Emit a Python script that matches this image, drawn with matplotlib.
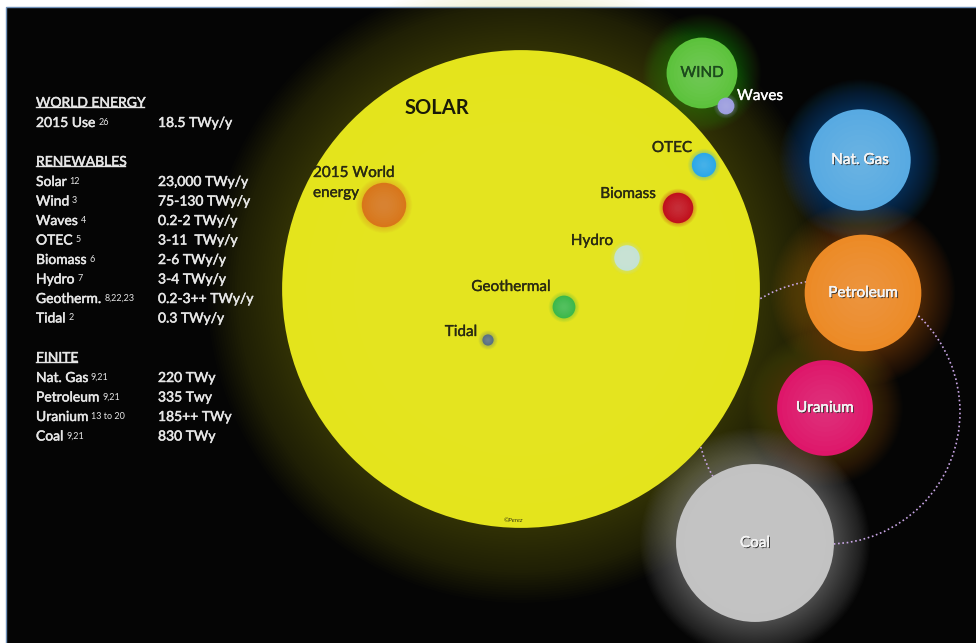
import numpy as np
import matplotlib.pyplot as plt
import matplotlib.colors as mcolors
import matplotlib.patheffects as pe
from matplotlib.patches import Circle, Rectangle


# Left hand table
world_labels = ['2015 Use']
world_refs = ['26']
world_values = ['18.5 TWy/y']

renew_labels = ['Solar', 'Wind', 'Waves', 'OTEC', 'Biomass', 'Hydro', 'Geotherm.', 'Tidal']
renew_refs = ['12', '3', '4', '5', '6', '7', '8,22,23', '2']
renew_values = ['23,000 TWy/y', '75-130 TWy/y', '0.2-2 TWy/y', '3-11  TWy/y',
                '2-6 TWy/y', '3-4 TWy/y', '0.2-3++ TWy/y', '0.3 TWy/y']

finite_labels = ['Nat. Gas', 'Petroleum', 'Uranium', 'Coal']
finite_refs = ['9,21', '9,21', '13 to 20', '9,21']
finite_values = ['220 TWy', '335 Twy', '185++ TWy', '830 TWy']

# Amounts used for the spheres (TWy). Sphere volume ~ amount.
solar_twy = 23000
world_twy = 18.5
sphere_names = ['WIND', 'Waves', 'OTEC', 'Biomass', 'Hydro', 'Geothermal', 'Tidal']
sphere_twy = [75, 1, 3, 6, 3.5, 2.5, 0.3]
finite_names = ['Nat. Gas', 'Petroleum', 'Uranium', 'Coal']
finite_twy = [220, 335, 185, 830]


# pixels per cube root of TWy
K = 8.4


def radius(v):
    return K * v ** (1.0 / 3.0)


def glow(ax, xy, r, color, reach, strength, z=1, n=30):
    # stack of faint rings, strongest at the sphere edge
    a = 1 - (1 - strength) ** (1.0 / n)
    for i in range(n):
        rr = r + (reach - r) * (i + 1) / n
        ax.add_patch(Circle(xy, rr, facecolor=color, edgecolor='none', alpha=a, zorder=z))


def sphere(ax, xy, r, color, z, light=0.5, shade=0.06):
    base = np.array(mcolors.to_rgb(color))
    hi = base + (1 - base) * light
    ax.add_patch(Circle(xy, r, facecolor=color, edgecolor='none', zorder=z))
    for i in range(8):
        ax.add_patch(Circle(xy, r * (0.9 - i * 0.1), facecolor=hi, edgecolor='none',
                            alpha=shade, zorder=z))


plt.rcParams['font.family'] = ['Lato', 'DejaVu Sans']

fig = plt.figure(figsize=(9.76, 6.43), dpi=100)
fig.patch.set_facecolor('white')
ax = fig.add_axes([0, 0, 1, 1])
ax.set_xlim(0, 976)
ax.set_ylim(643, 0)
ax.axis('off')

# black panel
ax.add_patch(Rectangle((6, 7), 975, 640, facecolor='#050505', edgecolor='#6f90b8', lw=1, zorder=0))

dark = '#2a2a12'
thick = [pe.withStroke(linewidth=0.25, foreground=dark)]

# ---- SUN ----
sun_xy = (521, 289)
sun_r = radius(solar_twy)
glow(ax, sun_xy, sun_r, '#c8c82a', sun_r + 75, 0.26)
sphere(ax, sun_xy, sun_r, '#e4e41c', 3, light=0.15, shade=0.03)
ax.text(437, 108, 'SOLAR', fontsize=14.5, fontweight='bold', color='#1a1a08',
        ha='center', va='center', zorder=10)
ax.text(513, 521, '©Perez', fontsize=4.5, style='italic', color='#404010',
        ha='center', va='center', zorder=10)

# world energy
world_xy = (384, 205)
world_r = radius(world_twy)
glow(ax, world_xy, world_r, '#e08a20', world_r + 6, 0.35, z=4, n=8)
sphere(ax, world_xy, world_r, '#d8761a', 5, light=0.3)
ax.text(313, 173, '2015 World', fontsize=11, color=dark, ha='left', va='center', zorder=10,
        path_effects=thick)
ax.text(313, 193, 'energy', fontsize=11, color=dark, ha='left', va='center', zorder=10,
        path_effects=thick)

# ---- renewables on / around the sun ----
sphere_xy = [(702, 73), (726, 106), (704, 165), (678, 208), (627, 258), (564, 307), (488, 340)]
sphere_colors = ['#5cc23c', '#9c9ee0', '#2aa8e8', '#c0101c', '#c4e2d4', '#3cb84a', '#587080']
label_xy = [(702, 73), (737, 96), (672, 148), (628, 194), (592, 241), (511, 287), (461, 332)]
label_ha = ['center', 'left', 'center', 'center', 'center', 'center', 'center']
label_colors = ['#1c4a1c', 'white', dark, dark, dark, dark, dark]

for i, name in enumerate(sphere_names):
    r = radius(sphere_twy[i])
    if name == 'WIND':
        glow(ax, sphere_xy[i], r, '#4ac040', r + 24, 0.35, z=2)
    else:
        glow(ax, sphere_xy[i], r, sphere_colors[i], r + 4, 0.3, z=4, n=6)
    sphere(ax, sphere_xy[i], r, sphere_colors[i], 5, light=0.35)
    ax.text(label_xy[i][0], label_xy[i][1], name, fontsize=11, color=label_colors[i],
            ha=label_ha[i], va='center', zorder=10,
            path_effects=[pe.withStroke(linewidth=0.25, foreground=label_colors[i])])

# ---- finite resources ----
finite_xy = [(860, 160), (863, 293), (825, 408), (755, 543)]
finite_colors = ['#58aae2', '#ec8a26', '#de166a', '#c2c2c2']
glow_colors = ['#2a78c8', '#b06c1c', '#8a6418', '#b8b8b8']
glow_reach = [30, 34, 30, 36]

# orbit line
ax.add_patch(Circle((828, 412), 132, fill=False, edgecolor='#c9a6e6',
                    linestyle=(0, (1, 1.6)), lw=1.2, zorder=2))

for i, name in enumerate(finite_names):
    r = radius(finite_twy[i])
    glow(ax, finite_xy[i], r, glow_colors[i], r + glow_reach[i], 0.45, z=1)
for i, name in enumerate(finite_names):
    r = radius(finite_twy[i])
    sphere(ax, finite_xy[i], r, finite_colors[i], 5, light=0.3)
    ax.text(finite_xy[i][0], finite_xy[i][1], name, fontsize=11, color='#f4f4f4',
            ha='center', va='center', zorder=10,
            path_effects=[pe.withSimplePatchShadow(offset=(0.8, -0.8),
                                                   shadow_rgbFace='#303030', alpha=0.9),
                          pe.withStroke(linewidth=0.2, foreground='#f4f4f4')])

# ---- left table ----
txt = '#e6e6e6'
bold_txt = [pe.withStroke(linewidth=0.35, foreground=txt)]
headers = []


def table(title, y_title, labels, refs, values, y0):
    h = ax.text(36, y_title, title, fontsize=10, color=txt, ha='left', va='center', zorder=10,
                path_effects=bold_txt)
    headers.append(h)
    for i, lab in enumerate(labels):
        y = y0 + 19.5 * i
        t = ax.text(36, y, lab, fontsize=10, color=txt, ha='left', va='center', zorder=10,
                    path_effects=bold_txt)
        ax.annotate(refs[i], xy=(1, 1), xycoords=t, xytext=(2, -0.5), textcoords='offset points',
                    fontsize=6.5, color=txt, ha='left', va='top', zorder=10)
        ax.text(158, y, values[i], fontsize=10, color=txt, ha='left', va='center', zorder=10,
                path_effects=bold_txt)


table('WORLD ENERGY', 103, world_labels, world_refs, world_values, 123)
table('RENEWABLES', 162, renew_labels, renew_refs, renew_values, 182)
table('FINITE', 358, finite_labels, finite_refs, finite_values, 378)

# underline the headers
fig.canvas.draw()
inv = ax.transData.inverted()
for h in headers:
    bb = h.get_window_extent()
    x0, y0 = inv.transform((bb.x0, bb.y0 + 2))
    x1, _ = inv.transform((bb.x1 - 1, bb.y0 + 2))
    ax.plot([x0, x1], [y0, y0], color=txt, lw=1.0, zorder=10)

fig.savefig('out.png', dpi=100)
